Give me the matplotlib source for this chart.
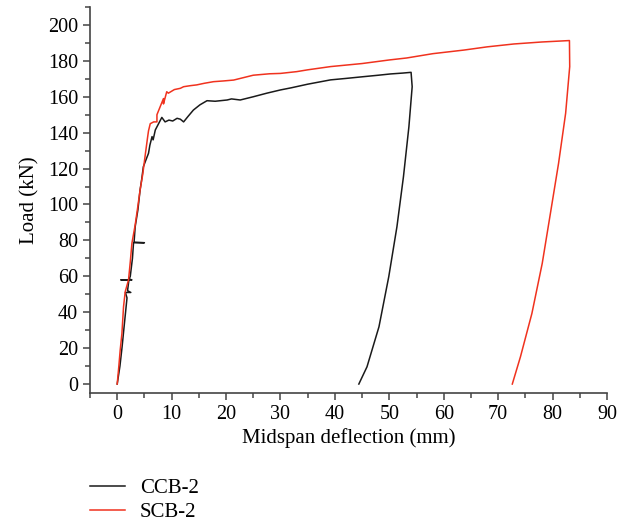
import matplotlib.pyplot as plt
from matplotlib.ticker import MultipleLocator
plt.switch_backend('Agg')
plt.rcParams["font.family"] = ["Liberation Serif", "DejaVu Serif"]

# CCB-2 load-deflection curve
ccb_x = [0, 0.5, 0.9, 1.2, 1.5, 1.8, 1.5, 2.5, 1.9, 2.15, 0.7, 2.7, 2.2, 2.4,
         2.8, 3.0, 5.0, 3.1, 3.3, 3.8, 4.2, 4.5, 4.8, 5.3, 5.75, 6.0, 6.4, 6.6,
         7.0, 7.6, 8.2, 8.8, 9.5, 10.2, 11.0, 11.6, 12.2, 13.0, 14.0, 15.2, 16.5,
         18.0, 20.2, 21.0, 22.6, 25.0, 27.5, 30.0, 32.0, 35.0, 39.2, 42.0, 45.3,
         48.0, 50.2, 52.5, 54.0, 54.2, 53.6, 52.6, 51.4, 49.9, 48.1, 45.9, 44.4]
ccb_y = [0, 10, 20.8, 30, 39, 48, 51, 51, 52, 58, 58, 58, 58.5, 60, 70, 78.7,
         78.7, 79, 87.6, 97, 108, 114, 121, 125, 128.5, 133, 137.8, 136, 141.5,
         145, 148.5, 146, 147, 146.5, 148, 147.5, 146, 149, 152.6, 155.5, 157.8,
         157.5, 158.2, 158.8, 158.2, 160, 162, 163.8, 165, 167, 169.4, 170.2,
         171.2, 172, 172.7, 173.2, 173.6, 165.6, 143.3, 115.5, 87.6, 59.8, 31.9,
         9.6, 0]

# SCB-2 load-deflection curve
scb_x = [0, 0.3, 0.55, 0.86, 1.16, 1.47, 2.08, 2.4, 2.7, 3.3, 3.7, 4.2, 4.7,
         5.15, 5.6, 5.75, 6.07, 6.7, 7.3, 7.3, 7.9, 8.5, 8.5, 9.1, 9.4, 10.5,
         11.6, 12.2, 13.5, 14.6, 16.0, 17.7, 19.5, 21.4, 23.0, 25.0, 28.0, 30.0,
         33.0, 35.0, 39.2, 45.0, 50.0, 53.2, 58.0, 63.7, 68.0, 72.9, 78.0, 83.1,
         83.15, 82.4, 81.1, 79.6, 78.1, 76.2, 74.1, 72.6]
scb_y = [0, 10, 19, 28, 43, 51.4, 58, 68, 78.4, 88.6, 97, 108, 117, 127.6, 137.8,
         141, 145, 146, 146, 150, 154.5, 159, 156, 162.8, 162, 164, 164.7, 165.6,
         166.2, 166.6, 167.5, 168.4, 168.8, 169.3, 170.5, 172, 172.8, 173, 174,
         175, 176.8, 178.5, 180.5, 181.6, 184, 186, 187.8, 189.4, 190.5, 191.3,
         176.8, 150.8, 122.9, 95, 67.2, 39.3, 15.2, 0]

fig = plt.figure(figsize=(6.19, 5.25), dpi=100)
ax = fig.add_axes([0.1454, 0.2514, 0.8352, 0.7353])

l1, = ax.plot(ccb_x, ccb_y, color="#1a1a1a", lw=1.1, label="CCB-2")
l2, = ax.plot(scb_x, scb_y, color="#f0321e", lw=1.1, label="SCB-2")

ax.set_xlim(-5, 90)
ax.set_ylim(-5, 210)
ax.xaxis.set_major_locator(MultipleLocator(10))
ax.xaxis.set_minor_locator(MultipleLocator(5))
ax.yaxis.set_minor_locator(MultipleLocator(10))
ax.set_yticks(range(0, 201, 20))
ax.spines["top"].set_visible(False)
ax.spines["right"].set_visible(False)
for s in ["left", "bottom"]:
    ax.spines[s].set_color("#444444")
    ax.spines[s].set_linewidth(1.2)
ax.tick_params(which="major", length=5, width=1.1, color="#444444", labelsize=14.5)
ax.tick_params(which="minor", length=3.5, width=1.1, color="#444444")
ax.set_xlabel("Midspan deflection (mm)", fontsize=15, labelpad=3)
ax.set_ylabel("Load (kN)", fontsize=15, labelpad=6)

fig.legend(handles=[l1, l2], loc="upper left", bbox_to_anchor=(0.1454, 0.088),
           frameon=False, fontsize=15, handlelength=1.7, handletextpad=0.7,
           labelspacing=0.2, borderpad=0, borderaxespad=0)

plt.savefig("out.png")
